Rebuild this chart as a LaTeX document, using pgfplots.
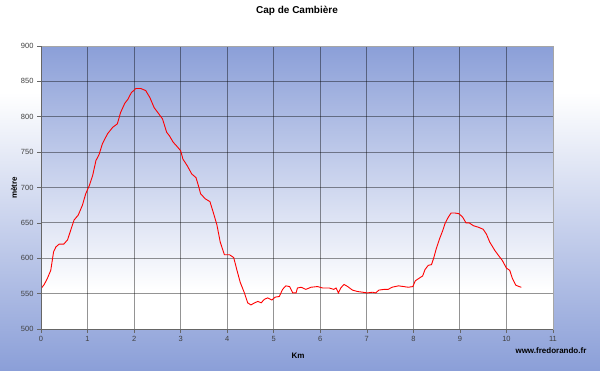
\documentclass[border=0pt]{standalone}
\usepackage{pgfplots}
\pgfplotsset{compat=1.18}
\usepackage{fontspec}
\setmainfont{Liberation Sans}
\definecolor{plotblue}{RGB}{139,159,216}
\definecolor{ticktext}{RGB}{64,64,64}
\pgfdeclareverticalshading{outerbg}{100bp}{color(0bp)=(plotblue); color(25bp)=(plotblue); color(62.5bp)=(white); color(100bp)=(white)}
\pgfdeclareverticalshading{plotbg}{100bp}{color(0bp)=(white); color(25bp)=(white); color(32bp)=(white); color(75bp)=(plotblue); color(100bp)=(plotblue)}
\begin{document}
\begin{tikzpicture}[x=1pt,y=1pt]
\shade[shading=outerbg] (0,0) rectangle (600,370);
\begin{axis}[
  at={(41pt,41pt)}, anchor=south west,
  scale only axis, width=512pt, height=283pt,
  xmin=0, xmax=11, ymin=500, ymax=900,
  xtick={0,1,...,11}, ytick={500,550,...,900},
  axis background/.style={shading=plotbg},
  clip mode=individual,
  grid=major,
  major grid style={black, opacity=0.42, line width=0.9pt},
  axis line style={black!35, line width=0.9pt},
  tick align=outside, xtick pos=left, ytick pos=left,
  major tick length=4pt,
  every tick/.style={black!60, line width=0.6pt},
  /pgf/number format/assume math mode=true,
  tick label style={font=\fontsize{7.5}{9}\selectfont, text=ticktext},
  yticklabel style={/pgf/number format/1000 sep={}},
  title={Cap de Cambière},
  title style={at={(rel axis cs:0.5,1.1025)}, anchor=center, font=\fontsize{10}{12}\selectfont\bfseries},
  xlabel={Km},
  xlabel style={at={(rel axis cs:0.502,-0.0954)}, anchor=center, font=\fontsize{8}{10}\selectfont\bfseries},
  ylabel={mètre},
  ylabel style={at={(rel axis cs:-0.0527,0.498)}, anchor=center, font=\fontsize{8}{10}\selectfont\bfseries},
]
\addplot[red, line width=0.9pt, mark=none] coordinates {
(0.00,557) (0.07,563) (0.14,572) (0.21,583) (0.27,609) (0.32,616) (0.39,620) (0.49,620)
(0.57,626) (0.64,640) (0.71,654) (0.80,661) (0.89,675) (0.96,691) (1.04,703) (1.11,717)
(1.18,738) (1.25,747) (1.32,762) (1.43,776) (1.54,785) (1.64,790) (1.71,806) (1.80,819)
(1.87,825) (1.94,834) (2.04,840) (2.14,840) (2.25,837) (2.34,827) (2.43,813) (2.52,805)
(2.61,797) (2.70,778) (2.76,773) (2.84,764) (2.91,759) (3.00,752) (3.05,740) (3.14,731)
(3.24,719) (3.33,714) (3.38,703) (3.43,691) (3.53,684) (3.63,680) (3.70,665) (3.78,647)
(3.85,623) (3.94,605) (4.05,605) (4.14,601) (4.21,583) (4.28,566) (4.37,551) (4.44,537)
(4.51,534) (4.59,537) (4.66,539) (4.73,537) (4.80,542) (4.87,544) (4.96,541) (5.03,545)
(5.12,546) (5.19,556) (5.26,561) (5.34,560) (5.41,551) (5.48,551) (5.51,558) (5.59,559)
(5.69,556) (5.80,559) (5.94,560) (6.05,558) (6.19,558) (6.29,556) (6.34,558) (6.39,551)
(6.44,558) (6.51,563) (6.59,560) (6.69,555) (6.80,553) (6.91,552) (7.01,551) (7.12,552)
(7.19,551) (7.26,555) (7.37,556) (7.46,556) (7.54,559) (7.68,561) (7.79,560) (7.89,559)
(7.99,560) (8.04,568) (8.13,572) (8.20,575) (8.25,584) (8.32,590) (8.39,591) (8.44,601)
(8.49,613) (8.56,627) (8.63,639) (8.68,649) (8.75,658) (8.81,664) (8.89,664) (8.98,663)
(9.06,658) (9.13,650) (9.20,650) (9.29,646) (9.39,644) (9.50,641) (9.57,634) (9.64,623)
(9.75,611) (9.84,603) (9.91,597) (10.00,586) (10.07,583) (10.13,571) (10.20,562) (10.27,560)
(10.32,559)
};
\draw[black!60, line width=0.9pt] (rel axis cs:0,1) -- (rel axis cs:0,0) -- (rel axis cs:1,0);
\node[font=\fontsize{8}{10}\selectfont\bfseries, text=black, anchor=center] at (rel axis cs:0.996,-0.0777) {www.fredorando.fr};
\end{axis}
\end{tikzpicture}
\end{document}
